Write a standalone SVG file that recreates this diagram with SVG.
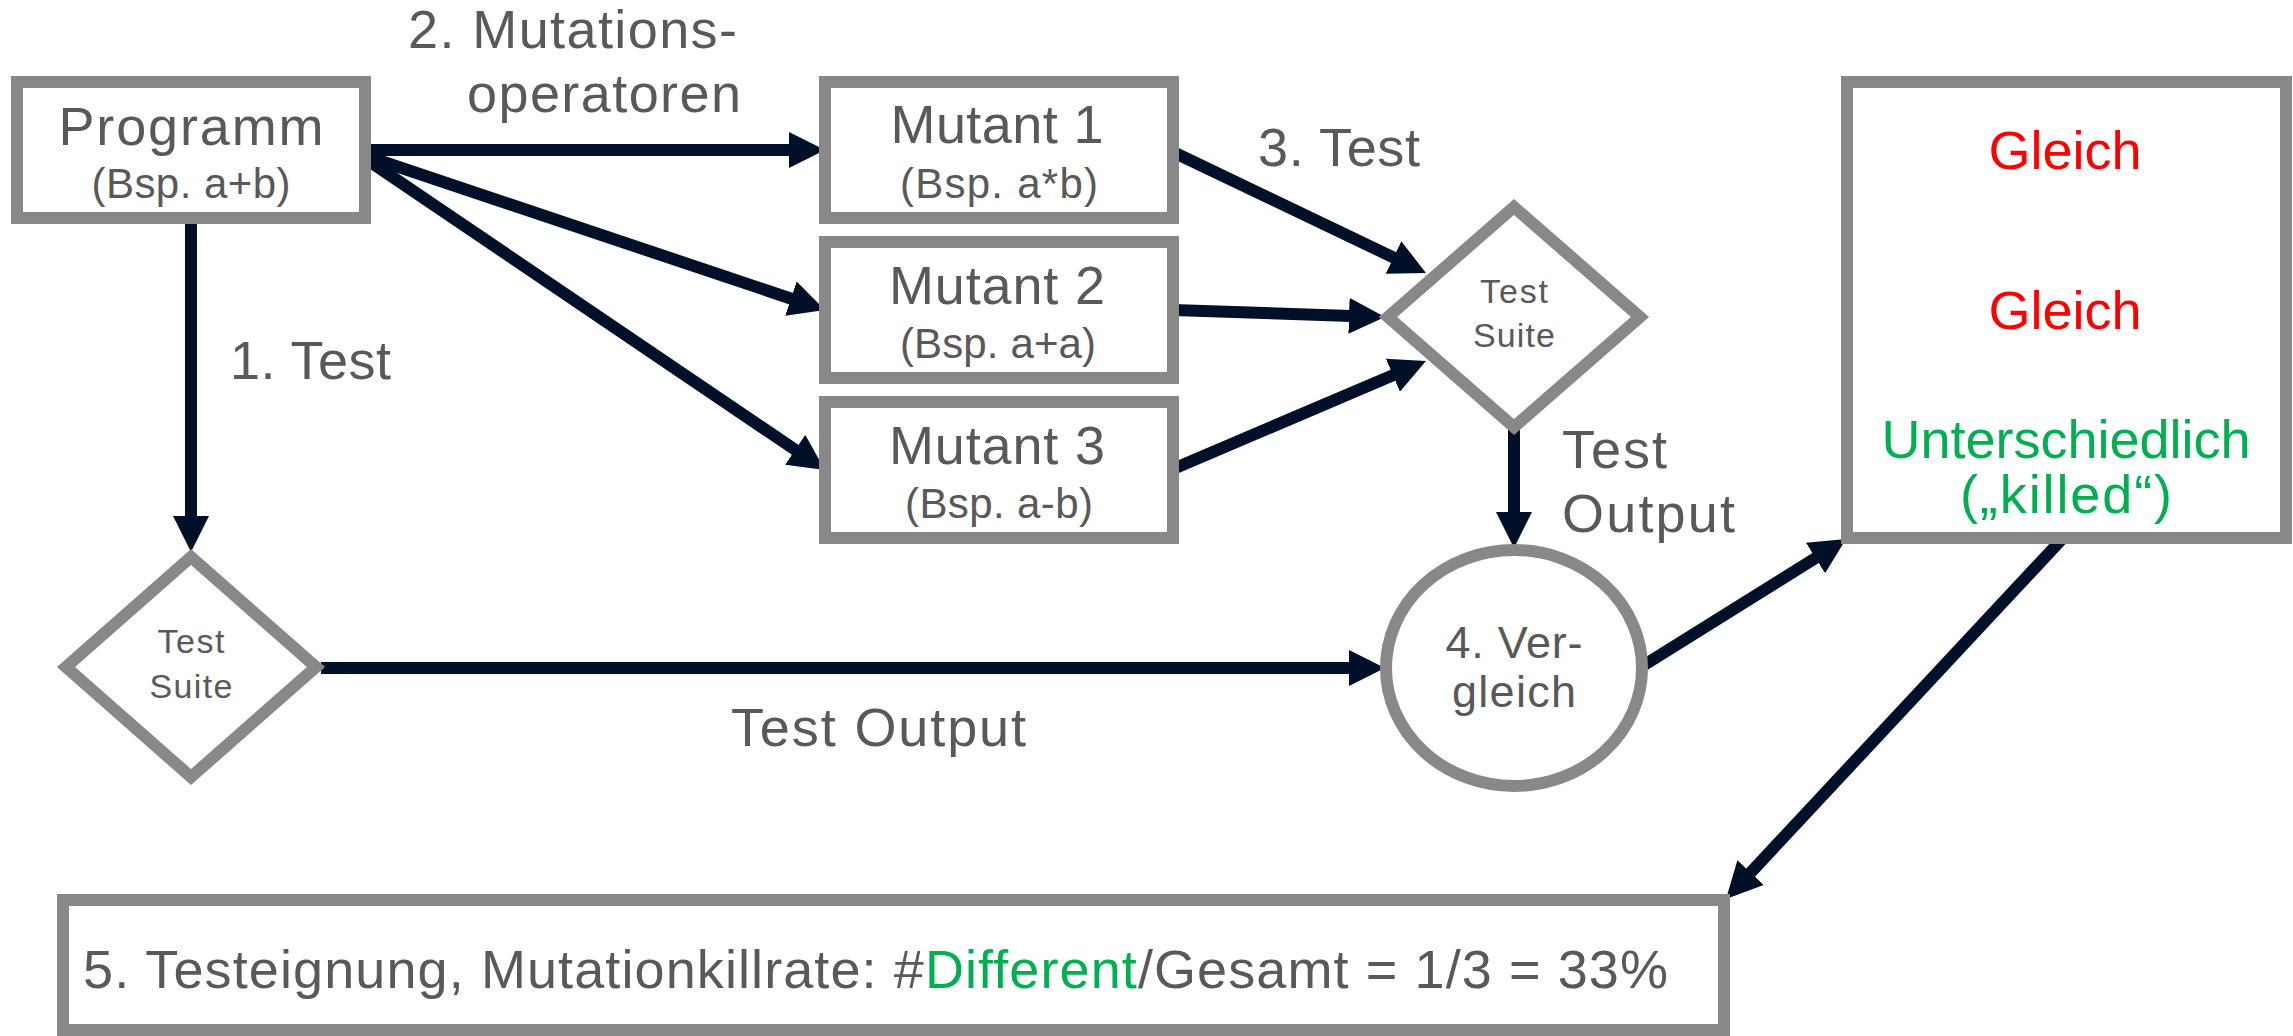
<svg xmlns="http://www.w3.org/2000/svg" width="2293" height="1036" viewBox="0 0 2293 1036">
  <style>
    .box { fill: #ffffff; stroke: #888888; stroke-width: 12; }
    .t { font-family: "Liberation Sans", Arial, sans-serif; fill: #595959; }
    .big { font-size: 54px; }
    .sub { font-size: 42px; }
    .small { font-size: 34px; }
    .mid { font-size: 45px; }
    .red { fill: #ff0000; }
    .green { fill: #00b050; }
    .conn { stroke: #001029; stroke-width: 12; fill: none; marker-end: url(#arrow); }
  </style>
  <defs>
    <marker id="arrow" viewBox="0 0 36 36" refX="2" refY="18" markerWidth="36" markerHeight="36" markerUnits="userSpaceOnUse" orient="auto">
      <path d="M0,0 L36,18 L0,36 z" fill="#001029"/>
    </marker>
  </defs>
  <rect width="2293" height="1036" fill="#ffffff"/>

  <!-- connectors -->
  <g id="connectors">
    <line class="conn" x1="363" y1="150" x2="791" y2="150"/>
    <line class="conn" x1="363" y1="155" x2="792.8" y2="299.2"/>
    <line class="conn" x1="363" y1="157" x2="796.8" y2="450.9"/>
    <line class="conn" x1="191" y1="218" x2="191" y2="518"/>
    <line class="conn" x1="1173" y1="152" x2="1395.3" y2="258.3"/>
    <line class="conn" x1="1173" y1="310" x2="1351" y2="315.9"/>
    <line class="conn" x1="1173" y1="469" x2="1394.7" y2="374.4"/>
    <line class="conn" x1="1514" y1="430" x2="1514" y2="514"/>
    <line class="conn" x1="321" y1="668" x2="1351" y2="668"/>
    <line class="conn" x1="1641" y1="667" x2="1817.2" y2="557"/>
    <line class="conn" x1="2063" y1="538" x2="1749.2" y2="874.1"/>
  </g>

  <!-- connector labels -->
  <g id="labels">
    <text class="t big" x="408" y="48" textLength="329">2. Mutations-</text>
    <text class="t big" x="467" y="112" textLength="274">operatoren</text>
    <text class="t big" x="230" y="379" textLength="161">1. Test</text>
    <text class="t big" x="1258" y="166" textLength="162">3. Test</text>
    <text class="t big" x="1562" y="468" textLength="105">Test</text>
    <text class="t big" x="1562" y="532" textLength="173">Output</text>
    <text class="t big" x="731" y="746" textLength="295">Test Output</text>
  </g>

  <!-- Programm -->
  <g id="programm">
    <rect class="box" x="17" y="82" width="348" height="136"/>
    <text class="t big" x="191" y="145" text-anchor="middle" textLength="265">Programm</text>
    <text class="t sub" x="191" y="198" text-anchor="middle" textLength="199">(Bsp. a+b)</text>
  </g>

  <!-- Mutants -->
  <g id="mutant1">
    <rect class="box" x="825" y="82" width="348" height="136"/>
    <text class="t big" x="997" y="143" text-anchor="middle" textLength="213">Mutant 1</text>
    <text class="t sub" x="999" y="198" text-anchor="middle" textLength="198">(Bsp. a*b)</text>
  </g>
  <g id="mutant2">
    <rect class="box" x="825" y="242" width="348" height="136"/>
    <text class="t big" x="997" y="304" text-anchor="middle" textLength="216">Mutant 2</text>
    <text class="t sub" x="998" y="358" text-anchor="middle" textLength="196">(Bsp. a+a)</text>
  </g>
  <g id="mutant3">
    <rect class="box" x="825" y="402" width="348" height="136"/>
    <text class="t big" x="997" y="464" text-anchor="middle" textLength="216">Mutant 3</text>
    <text class="t sub" x="999" y="518" text-anchor="middle" textLength="188">(Bsp. a-b)</text>
  </g>

  <!-- Test suite (mutants) -->
  <g id="testsuite-mutants">
    <polygon class="box" points="1514,207 1640,317 1514,427 1388,317"/>
    <text class="t small" x="1514" y="303" text-anchor="middle" textLength="68">Test</text>
    <text class="t small" x="1514" y="347" text-anchor="middle" textLength="82">Suite</text>
  </g>

  <!-- Test suite (program) -->
  <g id="testsuite-program">
    <polygon class="box" points="191,557 316,667 191,777 66,667"/>
    <text class="t small" x="191" y="653" text-anchor="middle" textLength="67">Test</text>
    <text class="t small" x="191" y="698" text-anchor="middle" textLength="83">Suite</text>
  </g>

  <!-- Vergleich -->
  <g id="vergleich">
    <ellipse class="box" cx="1514" cy="668" rx="128" ry="118"/>
    <text class="t mid" x="1514" y="658" text-anchor="middle" textLength="137">4. Ver-</text>
    <text class="t mid" x="1514" y="707" text-anchor="middle" textLength="124">gleich</text>
  </g>

  <!-- Results -->
  <g id="ergebnis">
    <rect class="box" x="1847" y="82" width="439" height="456"/>
    <text class="t big red" x="2065" y="169" text-anchor="middle">Gleich</text>
    <text class="t big red" x="2065" y="329" text-anchor="middle">Gleich</text>
    <text class="t big green" x="2066" y="458" text-anchor="middle">Unterschiedlich</text>
    <text class="t big green" x="2066" y="513" text-anchor="middle" textLength="212">(„killed“)</text>
  </g>

  <!-- Kill rate -->
  <g id="killrate">
    <rect class="box" x="63" y="900" width="1661" height="130"/>
    <text class="t big" x="83" y="988" textLength="1585">5. Testeignung, Mutationkillrate: #<tspan class="green">Different</tspan>/Gesamt = 1/3 = 33%</text>
  </g>
</svg>
